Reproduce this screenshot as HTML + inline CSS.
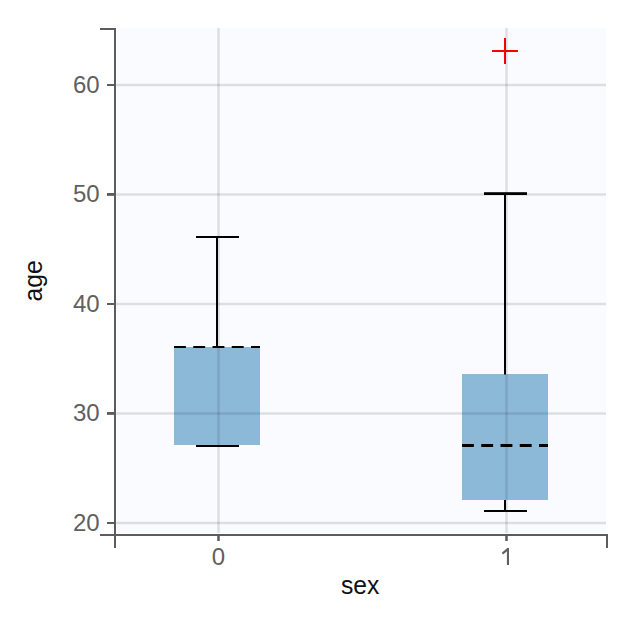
<!DOCTYPE html>
<html><head><meta charset="utf-8">
<style>
html,body{margin:0;padding:0;background:#fff;width:643px;height:619px;overflow:hidden;}
svg{display:block;font-family:"Liberation Sans",sans-serif;}
</style></head>
<body>
<svg width="643" height="619" viewBox="0 0 643 619">
<rect x="0" y="0" width="643" height="619" fill="#ffffff"/>
<!-- plot background -->
<rect x="117" y="28" width="489" height="505" fill="#fafbfe"/>
<!-- boxes -->
<g fill="#1f77b4" fill-opacity="0.5">
<rect x="174" y="347" width="86" height="98"/>
<rect x="462" y="374" width="86" height="126"/>
</g>
<!-- whiskers -->
<g fill="#000">
<rect x="216" y="237" width="2" height="110"/>
<rect x="196" y="236" width="43" height="2"/>
<rect x="196" y="445" width="43" height="2"/>
<rect x="504" y="193.5" width="2" height="181"/>
<rect x="484" y="192.2" width="43" height="2.8"/>
<rect x="504" y="500" width="2" height="11"/>
<rect x="484" y="510" width="43" height="2"/>
</g>
<!-- medians -->
<line x1="174" y1="347" x2="260" y2="347" stroke="#000" stroke-width="2" stroke-dasharray="11.9 7.35"/>
<line x1="462" y1="445.5" x2="548" y2="445.5" stroke="#000" stroke-width="3" stroke-dasharray="11.9 7.35"/>
<!-- outlier -->
<g fill="#ff0000">
<rect x="504" y="38" width="2" height="26"/>
<rect x="492" y="50" width="26" height="2"/>
</g>
<!-- grid -->
<g fill="#000" fill-opacity="0.115">
<rect x="116" y="83.75" width="490" height="2.5"/>
<rect x="116" y="193.25" width="490" height="2.5"/>
<rect x="116" y="302.75" width="490" height="2.5"/>
<rect x="116" y="412.25" width="490" height="2.5"/>
<rect x="116" y="521.75" width="490" height="2.5"/>
<rect x="217.25" y="28" width="2.5" height="505"/>
<rect x="505.25" y="28" width="2.5" height="505"/>
</g>
<!-- axes -->
<g fill="#5c5c5c">
<rect x="114" y="28" width="2" height="520"/>
<rect x="100" y="28" width="16" height="2"/>
<rect x="107" y="84" width="7" height="2"/>
<rect x="107" y="193" width="7" height="2.85"/>
<rect x="107" y="303" width="7" height="2"/>
<rect x="107" y="412" width="7" height="2.85"/>
<rect x="107" y="522" width="7" height="2"/>
<rect x="100" y="534" width="508" height="2"/>
<rect x="606" y="534" width="2" height="14"/>
<rect x="217.25" y="536" width="2.5" height="5"/>
<rect x="505.25" y="536" width="2.5" height="5"/>
</g>
<!-- tick labels -->
<g fill="#606060" font-size="24" text-anchor="end">
<text x="99.6" y="93">60</text>
<text x="99.6" y="201.6">50</text>
<text x="99.6" y="312">40</text>
<text x="99.6" y="420.6">30</text>
<text x="99.6" y="531">20</text>
</g>
<g fill="#606060" font-size="24" text-anchor="middle">
<text x="218.5" y="565">0</text>
</g>
<g fill="#606060"><rect x="506.9" y="548" width="2.1" height="17"/></g>
<path d="M508.4 548.6 L502.4 553.6" stroke="#606060" stroke-width="2.1" fill="none"/>
<text transform="translate(360.1,594) scale(1,1.065)" x="0" y="0" font-size="24.7" text-anchor="middle" fill="#111">sex</text>
<text transform="translate(41.8,280.8) rotate(-90) scale(1,1.065)" x="0" y="0" font-size="24.7" text-anchor="middle" fill="#111">age</text>
</svg>
</body></html>
